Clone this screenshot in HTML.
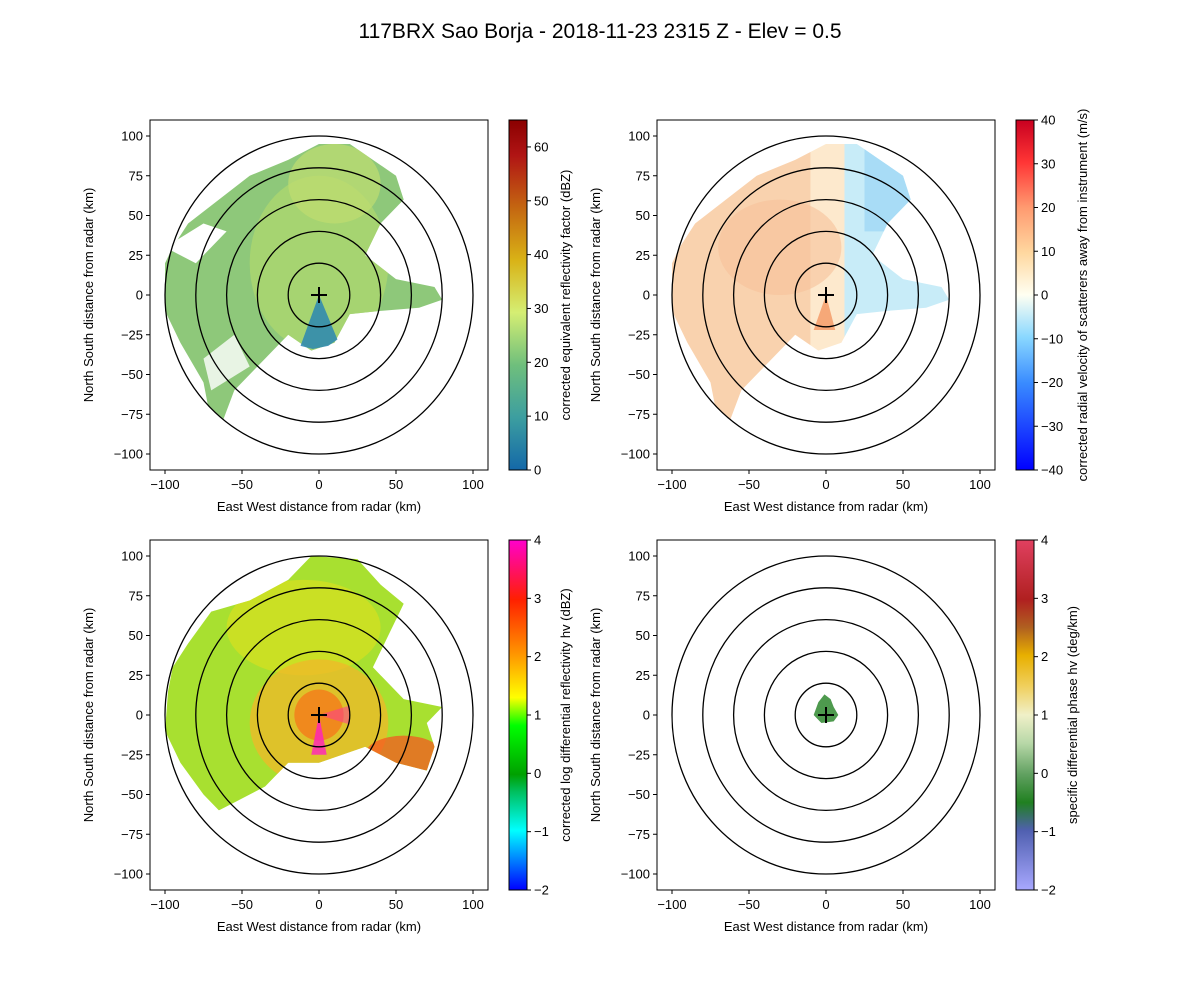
<!DOCTYPE html>
<html><head><meta charset="utf-8"><style>
body{margin:0;background:#fff}
svg text{font-family:"Liberation Sans","DejaVu Sans",sans-serif}
</style></head><body>
<svg id="s" xmlns="http://www.w3.org/2000/svg" width="1200" height="1000" viewBox="0 0 1200 1000"></svg>
<script>
const S=document.getElementById('s');
let h='<rect width="1200" height="1000" fill="#fff"/>';
h+='<text x="600" y="38" font-size="21" text-anchor="middle">117BRX Sao Borja - 2018-11-23 2315 Z -  Elev = 0.5</text>';
const W=338,H=350,SX=1.54,SY=1.59;
const P=[[150,120],[657,120],[150,540],[657,540]];
const echo=[[-95,30],[-85,45],[-65,60],[-45,75],[-20,85],[0,95],[20,95],[35,85],[50,75],[55,60],[40,45],[30,25],[50,10],[75,5],[80,-3],[65,-8],[40,-10],[20,-12],[10,-30],[-5,-35],[-20,-25],[-35,-40],[-55,-60],[-62,-78],[-72,-70],[-75,-55],[-90,-30],[-100,-10],[-100,20]];
const echo3=[[-95,30],[-85,45],[-70,65],[-45,72],[-20,85],[-5,100],[25,98],[40,82],[55,70],[45,50],[35,30],[55,10],[80,5],[70,-5],[75,-20],[70,-35],[50,-30],[30,-20],[15,-25],[0,-30],[-20,-30],[-35,-45],[-55,-55],[-65,-60],[-75,-50],[-90,-30],[-100,-10],[-98,15]];
const pts=a=>a.map(p=>p[0]+','+(-p[1])).join(' ');
const grads=[
 [[0,'#1468a8'],[0.15,'#3c9ea0'],[0.3,'#6fbf7c'],[0.45,'#d5ee73'],[0.6,'#d9b216'],[0.75,'#c46611'],[0.9,'#b01414'],[1,'#8a0000']],
 [[0,'#0000ff'],[0.25,'#3a8cff'],[0.38,'#8ad8ff'],[0.5,'#fffff2'],[0.62,'#ffd8a0'],[0.75,'#ff9a70'],[0.88,'#ff3535'],[1,'#c80020']],
 [[0,'#0000ff'],[0.17,'#00ffff'],[0.28,'#00c060'],[0.33,'#00a000'],[0.47,'#00ff00'],[0.55,'#ffff00'],[0.67,'#ff9900'],[0.83,'#ff2000'],[1,'#ff00cc']],
 [[0,'#a8a8ff'],[0.17,'#5060b0'],[0.25,'#208020'],[0.33,'#60a060'],[0.42,'#b8d8a8'],[0.5,'#f0f0c8'],[0.58,'#f0d060'],[0.67,'#e8b000'],[0.75,'#b06020'],[0.83,'#b02020'],[1,'#e04060']]];
h+='<defs>';
grads.forEach((g,i)=>{h+='<linearGradient id="g'+i+'" x1="0" y1="1" x2="0" y2="0">'+g.map(s=>'<stop offset="'+s[0]+'" stop-color="'+s[1]+'"/>').join('')+'</linearGradient>';});
h+='<clipPath id="e1"><polygon points="'+pts(echo)+'"/></clipPath><clipPath id="e3"><polygon points="'+pts(echo3)+'"/></clipPath>';
h+='</defs>';
const cb=[{lab:'corrected equivalent reflectivity factor (dBZ)',min:0,max:65,t:[0,10,20,30,40,50,60]},
{lab:'corrected radial velocity of scatterers away from instrument (m/s)',min:-40,max:40,t:[-40,-30,-20,-10,0,10,20,30,40]},
{lab:'corrected log differential reflectivity hv (dBZ)',min:-2,max:4,t:[-2,-1,0,1,2,3,4]},
{lab:'specific differential phase hv (deg/km)',min:-2,max:4,t:[-2,-1,0,1,2,3,4]}];
const fmt=v=>v<0?'\u2212'+(-v):''+v;
P.forEach((p,i)=>{
 const x0=p[0],y0=p[1],cx=x0+169,cy=y0+175;
 h+='<g transform="translate('+cx+','+cy+') scale('+SX+','+SY+')">';
 if(i==0){
  h+='<g clip-path="url(#e1)"><rect x="-120" y="-120" width="240" height="240" fill="#8ec87a"/><ellipse cx="0" cy="-20" rx="45" ry="55" fill="#b0d86e" opacity="0.7"/><ellipse cx="10" cy="-70" rx="30" ry="25" fill="#c0dd70" opacity="0.7"/><polygon points="-100,-30 -75,-45 -60,-40 -80,-20" fill="#fff"/><polygon points="-75,40 -55,25 -45,45 -70,60" fill="#fff" opacity="0.8"/></g>';
  h+='<polygon points="0,0 -12,32 -4,34 6,32 12,28" fill="#2a86b2" opacity="0.85"/>';
 }else if(i==1){
  h+='<g clip-path="url(#e1)"><rect x="-120" y="-120" width="110" height="240" fill="#f9d2ae"/><rect x="-10" y="-120" width="22" height="240" fill="#fde9cd"/><rect x="12" y="-120" width="110" height="240" fill="#c8ecf8"/><rect x="25" y="-120" width="100" height="80" fill="#a8dcf6"/><ellipse cx="-30" cy="-30" rx="40" ry="30" fill="#f7c29a" opacity="0.6"/></g>';
  h+='<polygon points="0,0 -8,22 6,22" fill="#f6a878"/>';
 }else if(i==2){
  h+='<g clip-path="url(#e3)"><rect x="-120" y="-120" width="240" height="240" fill="#a8e030"/><ellipse cx="-10" cy="-55" rx="50" ry="30" fill="#d8e020" opacity="0.7"/><ellipse cx="0" cy="5" rx="45" ry="40" fill="#f0b828" opacity="0.75"/><ellipse cx="55" cy="25" rx="25" ry="12" fill="#f85020" opacity="0.7"/><ellipse cx="0" cy="0" rx="16" ry="16" fill="#f87018" opacity="0.7"/></g>';
  h+='<polygon points="0,0 -5,25 5,25" fill="#ff20c0" opacity="0.8"/><polygon points="0,0 20,-6 20,6" fill="#ff30a0" opacity="0.5"/>';
 }else{
  h+='<polygon points="-8,0 -5,-8 -1,-13 3,-10 5,-5 8,0 5,4 -3,5" fill="#4e9a4e"/>';
 }
 [20,40,60,80,100].forEach(r=>{h+='<circle cx="0" cy="0" r="'+r+'" fill="none" stroke="#000" stroke-width="1.3" vector-effect="non-scaling-stroke"/>';});
 h+='</g>';
 h+='<path d="M'+(cx-8)+','+cy+'h16M'+cx+','+(cy-8)+'v16" stroke="#000" stroke-width="2"/>';
 h+='<rect x="'+x0+'" y="'+y0+'" width="'+W+'" height="'+H+'" fill="none" stroke="#000" stroke-width="1"/>';
 [-100,-50,0,50,100].forEach(v=>{const x=cx+v*SX;h+='<line x1="'+x+'" y1="'+(y0+H)+'" x2="'+x+'" y2="'+(y0+H+4)+'" stroke="#000"/><text x="'+x+'" y="'+(y0+H+19)+'" font-size="13" text-anchor="middle">'+fmt(v)+'</text>';});
 for(let v=100;v>=-100;v-=25){const y=cy-v*SY;h+='<line x1="'+(x0-4)+'" y1="'+y+'" x2="'+x0+'" y2="'+y+'" stroke="#000"/><text x="'+(x0-7)+'" y="'+(y+4.5)+'" font-size="13" text-anchor="end">'+fmt(v)+'</text>';}
 h+='<text x="'+cx+'" y="'+(y0+H+41)+'" font-size="13" text-anchor="middle">East West distance from radar (km)</text>';
 h+='<text transform="translate('+(x0-57)+','+cy+') rotate(-90)" font-size="13" text-anchor="middle">North South distance from radar (km)</text>';
 const c=cb[i], bx=x0+359, off=(i==1?71:61);
 h+='<rect x="'+bx+'" y="'+y0+'" width="18" height="'+H+'" fill="url(#g'+i+')" stroke="#000" stroke-width="1"/>';
 c.t.forEach(v=>{const y=y0+H-(v-c.min)/(c.max-c.min)*H;h+='<line x1="'+(bx+18)+'" y1="'+y+'" x2="'+(bx+22)+'" y2="'+y+'" stroke="#000"/><text x="'+(bx+25)+'" y="'+(y+4.5)+'" font-size="13">'+fmt(v)+'</text>';});
 h+='<text transform="translate('+(bx+off)+','+cy+') rotate(-90)" font-size="13" text-anchor="middle">'+c.lab+'</text>';
});
S.innerHTML=h;
</script>
</body></html>
